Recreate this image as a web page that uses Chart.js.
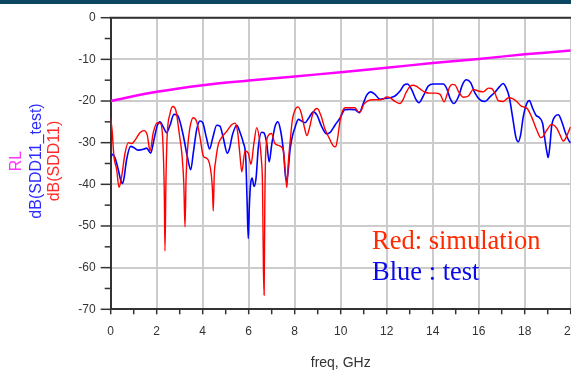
<!DOCTYPE html>
<html><head><meta charset="utf-8">
<script src="https://cdn.jsdelivr.net/npm/chart.js@4.4.1/dist/chart.umd.min.js"></script>
<style>
html,body{margin:0;padding:0;background:#fff;}
#wrap{position:relative;width:571px;height:373px;overflow:hidden;background:#fff;}
#band{position:absolute;left:0;top:0;width:571px;height:4px;background:#0c4660;}
canvas{position:absolute;left:0;top:0;}
</style></head><body>
<div id="wrap"><canvas id="c" width="571" height="373"></canvas><div id="band"></div></div>
<script>
// ---- data ----
const xTicks = [0, 2, 4, 6, 8, 10, 12, 14, 16, 18, 20];
const yTicks = [0, -10, -20, -30, -40, -50, -60, -70];

const rlFreq = [0, 2, 4, 6, 8, 10, 12, 14, 16, 18, 20];
const rlDb   = [-20, -17.8, -16.2, -15.1, -14.1, -13.1, -12.0, -10.9, -9.9, -8.8, -7.9];

const simFreq = [0.00,0.06,0.14,0.26,0.36,0.48,0.62,0.77,0.91,1.06,1.27,1.45,1.59,1.71,1.85,2.03,2.17,2.27,2.33,2.36,2.40,2.45,2.58,2.70,2.84,2.98,3.10,3.18,3.23,3.28,3.35,3.45,3.59,3.74,3.88,4.03,4.17,4.29,4.38,4.43,4.46,4.50,4.56,4.68,4.82,5.04,5.26,5.41,5.52,5.62,5.70,5.84,5.98,6.10,6.23,6.35,6.46,6.55,6.60,6.64,6.67,6.70,6.74,6.85,6.99,7.14,7.36,7.51,7.59,7.66,7.72,7.80,7.90,8.01,8.14,8.28,8.42,8.53,8.64,8.79,8.98,9.14,9.32,9.49,9.68,9.78,9.87,9.97,10.08,10.20,10.40,10.62,10.77,10.88,11.00,11.20,11.42,11.71,11.85,12.00,12.14,12.36,12.58,12.70,12.84,13.01,13.15,13.30,13.45,13.67,13.88,14.10,14.32,14.50,14.62,14.72,14.85,14.97,15.11,15.33,15.55,15.77,15.98,16.20,16.42,16.56,16.71,16.85,17.07,17.30,17.50,17.65,17.87,18.09,18.30,18.52,18.70,18.80,18.96,19.17,19.39,19.54,19.68,19.83,19.97,20.00];
const simDb   = [-24.3,-27,-33.3,-36.5,-40.7,-38,-32.6,-30,-30.2,-29.4,-27.6,-27.1,-28.2,-32,-27.6,-25.2,-25.4,-30,-42,-56,-40,-29,-23,-21.3,-22.4,-27.8,-33,-40,-50.2,-38,-31,-26.2,-24,-25,-28.6,-33.3,-33.7,-34.9,-38,-42,-46.4,-38,-34.5,-30.4,-28.8,-27.3,-25.7,-25.3,-27.5,-33,-37,-32,-32.5,-35.2,-30,-26.4,-29,-34,-40,-60,-66.6,-45,-32.4,-28.3,-27.8,-30.2,-30.8,-32,-36.8,-40.8,-35,-29.8,-24.5,-22.2,-21.4,-22.8,-26.3,-28.3,-26.5,-23,-21.8,-23.5,-26.8,-28.8,-30.8,-31,-28.8,-24.8,-22.4,-21.6,-21.6,-21.6,-22.6,-22.4,-20.8,-19.9,-19.7,-19.7,-19.5,-19.0,-19.2,-20.1,-20.6,-19.8,-18.0,-16.5,-16.2,-16.5,-17.1,-17.9,-18.1,-18.1,-18.4,-20.2,-18.5,-16.8,-16.0,-16.1,-17.6,-19.1,-18.8,-17.2,-17.6,-17.8,-16.9,-17.0,-18.2,-19.9,-20.1,-19.2,-19.5,-20.1,-21.3,-21.7,-23.8,-26.9,-28.8,-28.5,-27.0,-25.6,-26.5,-28.2,-29.6,-28.4,-26.5,-26.2];

const testFreq = [0.00,0.09,0.19,0.33,0.43,0.51,0.58,0.69,0.87,1.01,1.20,1.42,1.56,1.74,1.88,2.03,2.14,2.29,2.43,2.58,2.75,2.90,3.01,3.16,3.33,3.48,3.59,3.74,3.88,4.00,4.17,4.30,4.43,4.61,4.75,4.90,5.07,5.16,5.30,5.48,5.62,5.77,5.87,5.93,5.98,6.03,6.08,6.15,6.23,6.32,6.42,6.56,6.66,6.78,6.89,7.00,7.14,7.27,7.40,7.52,7.62,7.69,7.80,7.90,8.01,8.16,8.30,8.45,8.62,8.81,8.97,9.17,9.39,9.53,9.75,9.97,10.18,10.40,10.62,10.81,10.98,11.13,11.30,11.49,11.71,11.90,12.14,12.36,12.58,12.75,12.90,13.09,13.27,13.40,13.59,13.81,14.03,14.25,14.46,14.61,14.75,14.92,15.11,15.30,15.46,15.65,15.84,16.06,16.28,16.49,16.71,16.90,17.06,17.19,17.33,17.48,17.62,17.72,17.82,17.94,18.09,18.20,18.35,18.49,18.64,18.78,18.88,18.96,19.02,19.10,19.17,19.32,19.46,19.61,19.75,19.90,20.00];
const testDb   = [-33.5,-32.8,-33.7,-36.5,-38.9,-39.8,-38.5,-34.1,-30.9,-31.2,-31.8,-31.6,-31.3,-32.5,-29.3,-25.8,-25,-26.3,-27.6,-25.8,-23.2,-23.4,-24.9,-28.4,-33.3,-36.5,-32.5,-26.8,-24.8,-25.2,-29,-31.5,-29,-25.8,-26,-29,-32.5,-31.5,-28,-25.8,-27.5,-30.1,-33.5,-44,-53,-45,-40,-38.5,-40.5,-38.5,-31,-27.5,-27.6,-30,-34.6,-30.5,-26.2,-25,-27.5,-32.5,-39,-38,-31.6,-28.4,-26.4,-24.4,-24.8,-25.2,-24,-22.6,-23.4,-26.1,-27.9,-27.6,-25.8,-24.1,-22.1,-22.0,-22.1,-22.8,-20.6,-18.6,-17.8,-18.4,-19.6,-19.4,-19.2,-18.8,-17.6,-16.2,-15.9,-17.3,-19.6,-20.4,-18.8,-16.4,-15.9,-15.9,-15.9,-17,-19.3,-20.6,-19.1,-16,-14.9,-15.6,-18.1,-19.7,-20.1,-19,-17.9,-16.6,-15.8,-16.8,-19.1,-24.1,-28.8,-29.8,-28.2,-23.7,-20.6,-19.9,-21.8,-23.4,-24,-25.4,-29.3,-32.1,-33.6,-30.5,-26.1,-23.7,-23.3,-24.9,-27.3,-29.3,-30.1];

const yTitleLines = [
  {text: 'RL', color: '#ff33ff', x: 17},
  {text: 'dB(SDD11_test)', color: '#2b2bff', x: 37},
  {text: 'dB(SDD11)', color: '#ff2a2a', x: 55}
];
const notes = [
  {text: 'Red: simulation', color: '#ff2a00', y: 249},
  {text: 'Blue : test', color: '#0a0ae6', y: 280}
];

const pts = (xs, ys) => xs.map((x, i) => ({x: x, y: ys[i]}));

const decor = {
  id: 'decor',
  afterDraw(chart) {
    const ctx = chart.ctx, a = chart.chartArea, xs = chart.scales.x, ys = chart.scales.y;
    ctx.save();
    ctx.strokeStyle = '#333';
    ctx.lineWidth = 2;
    ctx.beginPath(); ctx.moveTo(a.left - 1, a.top); ctx.lineTo(a.right + 2, a.top); ctx.stroke();
    ctx.lineWidth = 1.5;
    for (let f = 0; f <= 20; f++) {
      const px = xs.getPixelForValue(f);
      ctx.beginPath(); ctx.moveTo(px, a.bottom); ctx.lineTo(px, a.bottom + 5); ctx.stroke();
    }
    for (let v = 0; v >= -70; v -= 5) {
      const py = ys.getPixelForValue(v);
      const len = (v % 10 === 0) ? 10 : 6;
      ctx.beginPath(); ctx.moveTo(a.left - len, py); ctx.lineTo(a.left, py); ctx.stroke();
    }
    // x title
    ctx.fillStyle = '#333';
    ctx.font = '14px "Liberation Sans", Arial, sans-serif';
    ctx.textAlign = 'center'; ctx.textBaseline = 'middle';
    ctx.fillText('freq, GHz', (a.left + a.right) / 2, 363);
    // y title lines
    ctx.font = '16px "Liberation Sans", Arial, sans-serif';
    yTitleLines.forEach(l => {
      ctx.save();
      ctx.translate(l.x, 161);
      ctx.rotate(-Math.PI / 2);
      ctx.fillStyle = l.color;
      ctx.fillText(l.text, 0, 0);
      ctx.restore();
    });
    // annotation
    ctx.font = '26.5px "Liberation Serif", "Times New Roman", serif';
    ctx.textAlign = 'left'; ctx.textBaseline = 'alphabetic';
    notes.forEach(n => { ctx.fillStyle = n.color; ctx.fillText(n.text, 372, n.y); });
    ctx.restore();
  }
};

new Chart(document.getElementById('c'), {
  type: 'line',
  data: {
    datasets: [
      {label: 'RL', data: pts(rlFreq, rlDb), borderColor: '#ff00ff', borderWidth: 2.5, pointRadius: 0, tension: 0.3},
      {label: 'dB(SDD11)', data: pts(simFreq, simDb), borderColor: '#ff0000', borderWidth: 1.4, pointRadius: 0, cubicInterpolationMode: 'monotone'},
      {label: 'dB(SDD11_test)', data: pts(testFreq, testDb), borderColor: '#0000ff', borderWidth: 1.6, pointRadius: 0, cubicInterpolationMode: 'monotone'}
    ]
  },
  options: {
    responsive: false,
    animation: false,
    devicePixelRatio: 1,
    layout: {autoPadding: false, padding: {left: 0, right: 0.3, top: 17.7, bottom: 0}},
    plugins: {legend: {display: false}, tooltip: {enabled: false}},
    scales: {
      x: {
        type: 'linear', min: 0, max: 20,
        afterBuildTicks: s => { s.ticks = xTicks.map(v => ({value: v})); },
        afterFit: s => { s.height = 63.7; s.paddingLeft = 0; s.paddingRight = 0; },
        ticks: {autoSkip: false, maxRotation: 0, padding: 15, color: '#333', font: {family: '"Liberation Sans", Arial, sans-serif', size: 12}},
        grid: {color: '#cccccc', lineWidth: 2, drawTicks: false},
        border: {color: '#333', width: 2}
      },
      y: {
        type: 'linear', min: -70, max: 0,
        afterBuildTicks: s => { s.ticks = yTicks.map(v => ({value: v})); },
        afterFit: s => { s.width = 110.7; s.paddingTop = 0; s.paddingBottom = 0; },
        ticks: {padding: 15, color: '#333', font: {family: '"Liberation Sans", Arial, sans-serif', size: 12}},
        grid: {color: '#cccccc', lineWidth: 2, drawTicks: false},
        border: {color: '#333', width: 2}
      }
    }
  },
  plugins: [decor]
});
</script>
</body></html>
